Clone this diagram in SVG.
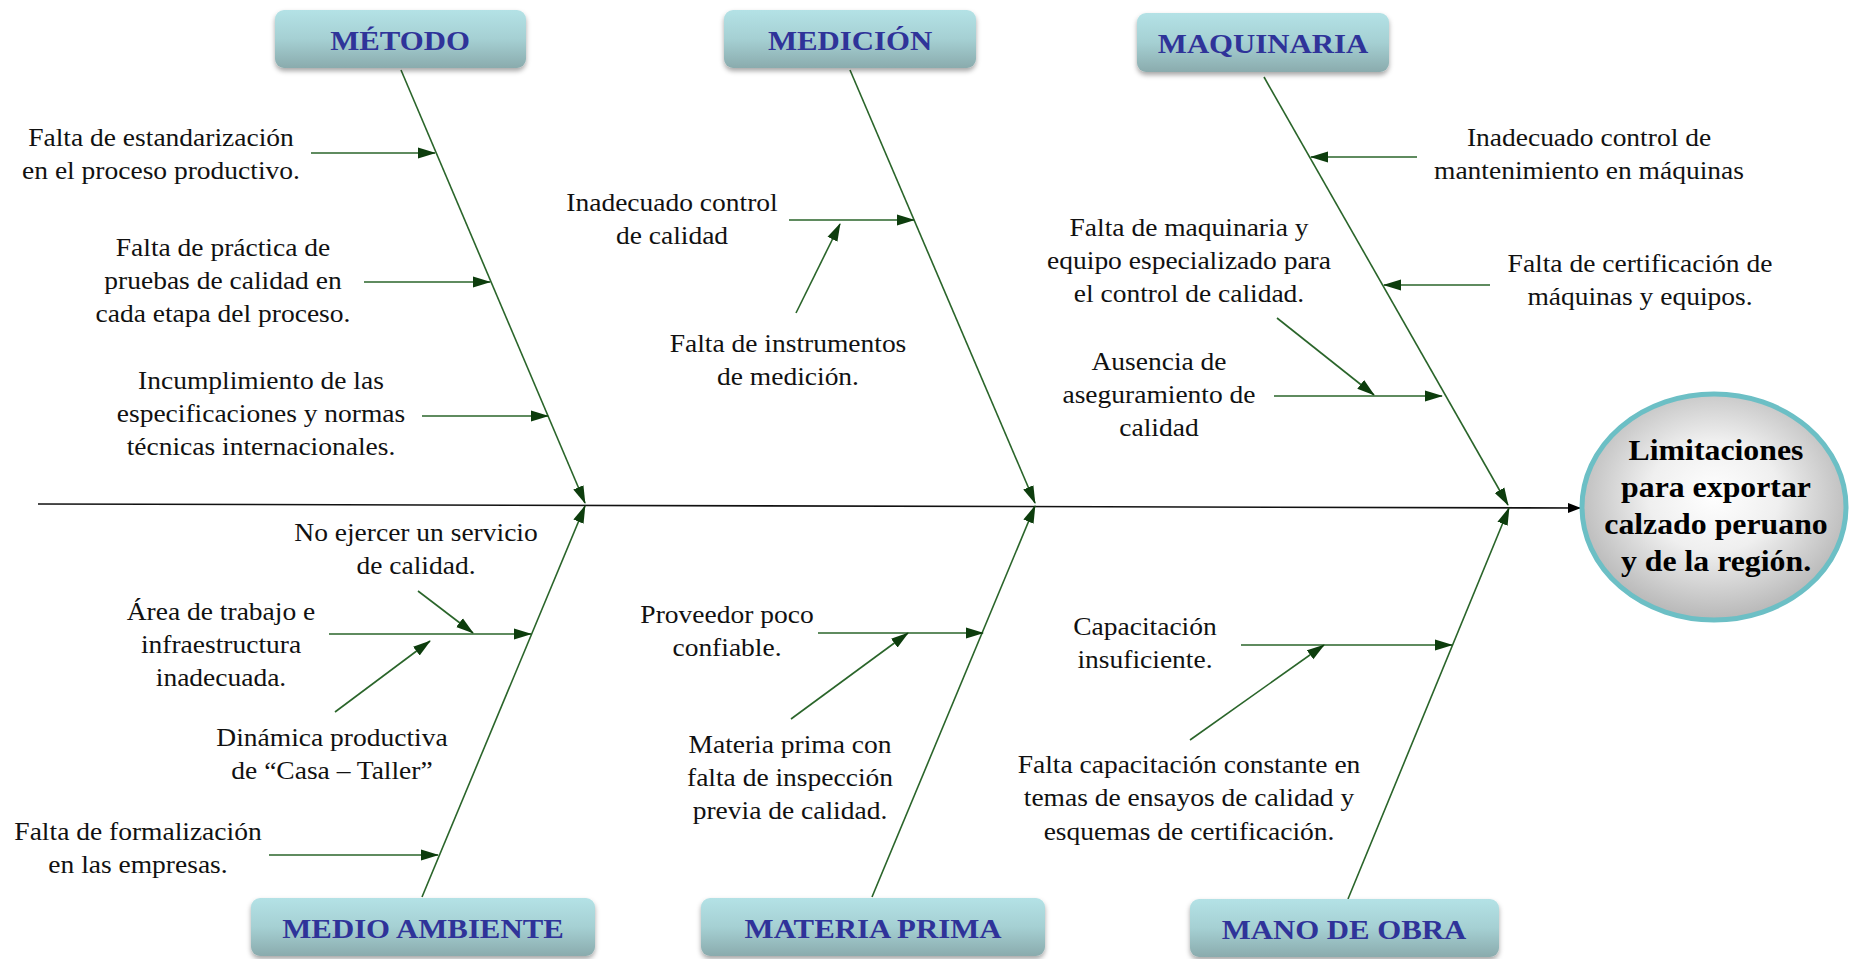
<svg xmlns="http://www.w3.org/2000/svg" width="1850" height="959" viewBox="0 0 1850 959">
<defs>
  <linearGradient id="boxGrad" x1="0" y1="0" x2="0" y2="1">
    <stop offset="0" stop-color="#b4e2e6"/>
    <stop offset="0.5" stop-color="#a5d0d3"/>
    <stop offset="1" stop-color="#8aabad"/>
  </linearGradient>
  <radialGradient id="ellGrad" cx="0.5" cy="0.45" r="0.55">
    <stop offset="0" stop-color="#ffffff"/>
    <stop offset="0.45" stop-color="#efefef"/>
    <stop offset="1" stop-color="#b7b7b7"/>
  </radialGradient>
  <filter id="shadow" x="-10%" y="-20%" width="120%" height="160%">
    <feDropShadow dx="0" dy="3" stdDeviation="2.5" flood-color="#000" flood-opacity="0.35"/>
  </filter>
  <marker id="ga" markerUnits="userSpaceOnUse" markerWidth="18" markerHeight="12" refX="17" refY="6" orient="auto">
    <path d="M0,0.5 L18,6 L0,11.5 z" fill="#0d3d0d"/>
  </marker>
  <marker id="ba" markerUnits="userSpaceOnUse" markerWidth="13" markerHeight="10" refX="12" refY="5" orient="auto">
    <path d="M0,0 L13,5 L0,10 z" fill="#000"/>
  </marker>
</defs>
<style>
.box{fill:url(#boxGrad);filter:url(#shadow)}
text{font-family:'Liberation Serif',serif}
.hd{font-weight:bold;font-size:28px;fill:#2f3399;text-anchor:middle}
.tx{font-size:25px;fill:#111;text-anchor:middle}
.ef{font-weight:bold;font-size:30px;fill:#000;text-anchor:middle}
.br{stroke:#2a652a;stroke-width:1.6;fill:none;marker-end:url(#ga)}
.sp{stroke:#111;stroke-width:1.6;fill:none;marker-end:url(#ba)}
</style>
<rect width="1850" height="959" fill="#fff"/>

<g id="connectors">
  <line class="sp" x1="38" y1="504" x2="1580" y2="508"/>
  <line class="br" x1="401" y1="70" x2="585" y2="503"/>
  <line class="br" x1="850" y1="70" x2="1035" y2="503"/>
  <line class="br" x1="1264" y1="77" x2="1508" y2="505"/>
  <line class="br" x1="422" y1="897" x2="585" y2="506"/>
  <line class="br" x1="872" y1="897" x2="1035" y2="506"/>
  <line class="br" x1="1348" y1="899" x2="1509" y2="508"/>
  <line class="br" x1="311" y1="153" x2="435" y2="153"/>
  <line class="br" x1="364" y1="282" x2="490" y2="282"/>
  <line class="br" x1="422" y1="416" x2="548" y2="416"/>
  <line class="br" x1="789" y1="220" x2="914" y2="220"/>
  <line class="br" x1="796" y1="313" x2="840" y2="224"/>
  <line class="br" x1="1417" y1="157" x2="1311" y2="157"/>
  <line class="br" x1="1490" y1="285" x2="1384" y2="285"/>
  <line class="br" x1="1277" y1="318" x2="1374" y2="395"/>
  <line class="br" x1="1274" y1="396" x2="1442" y2="396"/>
  <line class="br" x1="329" y1="634" x2="531" y2="634"/>
  <line class="br" x1="418" y1="591" x2="473" y2="633"/>
  <line class="br" x1="335" y1="712" x2="430" y2="641"/>
  <line class="br" x1="269" y1="855" x2="438" y2="855"/>
  <line class="br" x1="818" y1="633" x2="983" y2="633"/>
  <line class="br" x1="791" y1="719" x2="908" y2="633"/>
  <line class="br" x1="1241" y1="645" x2="1452" y2="645"/>
  <line class="br" x1="1190" y1="740" x2="1324" y2="645"/>
</g>

<g id="metodo">
  <rect class="box" x="275" y="10" width="251" height="58" rx="9"/>
  <text class="hd" font-family="Liberation Serif, serif" transform="translate(400 0) scale(1.1 1)" x="0" y="50">MÉTODO</text>
</g>
<g id="medicion">
  <rect class="box" x="724" y="10" width="252" height="58" rx="9"/>
  <text class="hd" font-family="Liberation Serif, serif" transform="translate(850 0) scale(1.1 1)" x="0" y="50">MEDICIÓN</text>
</g>
<g id="maquinaria">
  <rect class="box" x="1137" y="13" width="252" height="59" rx="9"/>
  <text class="hd" font-family="Liberation Serif, serif" transform="translate(1263 0) scale(1.1 1)" x="0" y="53">MAQUINARIA</text>
</g>
<g id="medio-ambiente">
  <rect class="box" x="251" y="898" width="344" height="58" rx="9"/>
  <text class="hd" font-family="Liberation Serif, serif" transform="translate(423 0) scale(1.1 1)" x="0" y="938">MEDIO AMBIENTE</text>
</g>
<g id="materia-prima">
  <rect class="box" x="701" y="898" width="344" height="58" rx="9"/>
  <text class="hd" font-family="Liberation Serif, serif" transform="translate(873 0) scale(1.1 1)" x="0" y="938">MATERIA PRIMA</text>
</g>
<g id="mano-de-obra">
  <rect class="box" x="1190" y="899" width="309" height="58" rx="9"/>
  <text class="hd" font-family="Liberation Serif, serif" transform="translate(1344 0) scale(1.1 1)" x="0" y="939">MANO DE OBRA</text>
</g>

<g id="efecto">
  <ellipse cx="1714" cy="507" rx="132" ry="113" fill="url(#ellGrad)" stroke="#6cbfc5" stroke-width="5"/>
  <text class="ef" font-family="Liberation Serif, serif" transform="translate(1716 0) scale(1.06 1)"><tspan x="0" y="460">Limitaciones</tspan><tspan x="0" y="497">para exportar</tspan><tspan x="0" y="534">calzado peruano</tspan><tspan x="0" y="571">y de la región.</tspan></text>
</g>

<g id="c1"><text class="tx" font-family="Liberation Serif, serif" transform="translate(161 0) scale(1.1 1)"><tspan x="0" y="146">Falta de estandarización</tspan><tspan x="0" y="179">en el proceso productivo.</tspan></text></g>
<g id="c2"><text class="tx" font-family="Liberation Serif, serif" transform="translate(223 0) scale(1.1 1)"><tspan x="0" y="256">Falta de práctica de</tspan><tspan x="0" y="289">pruebas de calidad en</tspan><tspan x="0" y="322">cada etapa del proceso.</tspan></text></g>
<g id="c3"><text class="tx" font-family="Liberation Serif, serif" transform="translate(261 0) scale(1.1 1)"><tspan x="0" y="389">Incumplimiento de las</tspan><tspan x="0" y="422">especificaciones y normas</tspan><tspan x="0" y="455">técnicas internacionales.</tspan></text></g>
<g id="c4"><text class="tx" font-family="Liberation Serif, serif" transform="translate(672 0) scale(1.1 1)"><tspan x="0" y="211">Inadecuado control</tspan><tspan x="0" y="244">de calidad</tspan></text></g>
<g id="c5"><text class="tx" font-family="Liberation Serif, serif" transform="translate(788 0) scale(1.1 1)"><tspan x="0" y="352">Falta de instrumentos</tspan><tspan x="0" y="385">de medición.</tspan></text></g>
<g id="c6"><text class="tx" font-family="Liberation Serif, serif" transform="translate(1589 0) scale(1.1 1)"><tspan x="0" y="146">Inadecuado control de</tspan><tspan x="0" y="179">mantenimiento en máquinas</tspan></text></g>
<g id="c7"><text class="tx" font-family="Liberation Serif, serif" transform="translate(1640 0) scale(1.1 1)"><tspan x="0" y="272">Falta de certificación de</tspan><tspan x="0" y="305">máquinas y equipos.</tspan></text></g>
<g id="c8"><text class="tx" font-family="Liberation Serif, serif" transform="translate(1189 0) scale(1.1 1)"><tspan x="0" y="236">Falta de maquinaria y</tspan><tspan x="0" y="269">equipo especializado para</tspan><tspan x="0" y="302">el control de calidad.</tspan></text></g>
<g id="c9"><text class="tx" font-family="Liberation Serif, serif" transform="translate(1159 0) scale(1.1 1)"><tspan x="0" y="370">Ausencia de</tspan><tspan x="0" y="403">aseguramiento de</tspan><tspan x="0" y="436">calidad</tspan></text></g>
<g id="c10"><text class="tx" font-family="Liberation Serif, serif" transform="translate(221 0) scale(1.1 1)"><tspan x="0" y="620">Área de trabajo e</tspan><tspan x="0" y="653">infraestructura</tspan><tspan x="0" y="686">inadecuada.</tspan></text></g>
<g id="c11"><text class="tx" font-family="Liberation Serif, serif" transform="translate(416 0) scale(1.1 1)"><tspan x="0" y="541">No ejercer un servicio</tspan><tspan x="0" y="574">de calidad.</tspan></text></g>
<g id="c12"><text class="tx" font-family="Liberation Serif, serif" transform="translate(332 0) scale(1.1 1)"><tspan x="0" y="746">Dinámica productiva</tspan><tspan x="0" y="779">de “Casa – Taller”</tspan></text></g>
<g id="c13"><text class="tx" font-family="Liberation Serif, serif" transform="translate(138 0) scale(1.1 1)"><tspan x="0" y="840">Falta de formalización</tspan><tspan x="0" y="873">en las empresas.</tspan></text></g>
<g id="c14"><text class="tx" font-family="Liberation Serif, serif" transform="translate(727 0) scale(1.1 1)"><tspan x="0" y="623">Proveedor poco</tspan><tspan x="0" y="656">confiable.</tspan></text></g>
<g id="c15"><text class="tx" font-family="Liberation Serif, serif" transform="translate(790 0) scale(1.1 1)"><tspan x="0" y="753">Materia prima con</tspan><tspan x="0" y="786">falta de inspección</tspan><tspan x="0" y="819">previa de calidad.</tspan></text></g>
<g id="c16"><text class="tx" font-family="Liberation Serif, serif" transform="translate(1145 0) scale(1.1 1)"><tspan x="0" y="635">Capacitación</tspan><tspan x="0" y="668">insuficiente.</tspan></text></g>
<g id="c17"><text class="tx" font-family="Liberation Serif, serif" transform="translate(1189 0) scale(1.1 1)"><tspan x="0" y="773">Falta capacitación constante en</tspan><tspan x="0" y="806">temas de ensayos de calidad y</tspan><tspan x="0" y="840">esquemas de certificación.</tspan></text></g>
</svg>
